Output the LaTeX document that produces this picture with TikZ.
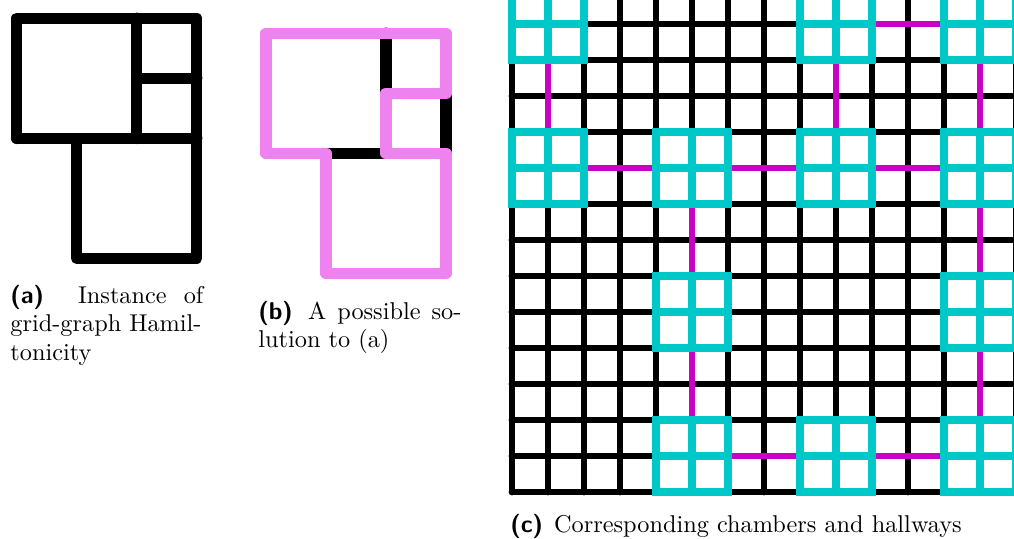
\documentclass[tikz,border=0pt]{standalone}
\usepackage{fontspec}
\setmainfont{lmroman10-regular.otf}[BoldFont=lmroman10-bold.otf, ItalicFont=lmroman10-italic.otf]

\definecolor{roomcyan}{RGB}{0,200,200}
\definecolor{hallmag}{RGB}{200,0,200}
\definecolor{tourpink}{RGB}{238,130,238}
\newcommand{\sublbl}[1]{{\sffamily\bfseries(#1)}}

\begin{document}
\begin{tikzpicture}[x=0.5pt, y=-0.5pt,
    edge/.style={line width=5.75pt, line cap=round, line join=round},
    tour/.style={edge, color=tourpink},
    wall/.style={line width=3.4pt, line cap=round},
    room/.style={line width=3.6pt, color=roomcyan},
    hall/.style={line width=2.8pt, color=hallmag},
    subcap/.style={inner sep=0pt, font=\fontsize{12.15}{14.35}\selectfont, align=left}]
    \useasboundingbox (0,0) rectangle (1014,538);
    \def\unit{30pt}
    \def\cell{18pt}

    % (a) the instance
    \begin{scope}[shift={(16.7,18.3)}, x=\unit, y=-\unit]
        \draw[edge] (0,2) -- (0,0) -- (3,0) -- (3,4) -- (1,4) -- (1,2) -- (3,2);
        \draw[edge] (0,2) -- (1,2);
        \draw[edge] (2,0) -- (2,2);\draw[edge] (2,1) -- (3,1);
    \end{scope}

    % (b) one hamiltonian cycle
    \begin{scope}[shift={(266,33.3)}, x=\unit, y=-\unit]
        \draw[edge] (2,0) -- (2,1);\draw[edge] (3,1) -- (3,2);\draw[edge] (1,2) -- (2,2);
        \draw[tour] (0,0) -- (3,0) -- (3,1) -- (2,1) -- (2,2) -- (3,2) -- (3,4) -- (1,4) -- (1,2) -- (0,2) -- cycle;
    \end{scope}

    % (c) chambers and hallways
    \begin{scope}
        \clip (500,0) rectangle (1014,510);
        \begin{scope}[shift={(512,492)}, x=\cell, y=\cell]
            \foreach \i in {0,...,14} {\draw[wall] (\i,0) -- (\i,15);}
            \foreach \j in {0,...,14} {\draw[wall] (0,\j) -- (15,\j);}
            % hallways
            \foreach \hx/\hy in {1/10, 9/10, 13/10, 5/6, 13/6, 5/2, 13/2} {\draw[hall] (\hx,\hy) -- ++(0,2);}
            \foreach \hx/\hy in {10/13, 2/9, 6/9, 10/9, 6/1, 10/1} {\draw[hall] (\hx,\hy) -- ++(2,0);}
            % chambers
            \foreach \cx/\cy in {0/12, 8/12, 12/12, 0/8, 4/8, 8/8, 12/8, 4/4, 12/4, 4/0, 8/0, 12/0}
                {\draw[room] (\cx,\cy) rectangle ++(2,2) (\cx+1,\cy) -- ++(0,2) (\cx,\cy+1) -- ++(2,0);}
        \end{scope}
    \end{scope}

    % captions
    \node[subcap, anchor=north west] (capa) at (10,284.5)
        {\makebox[96.5pt][l]{\sublbl{a}\hspace{0pt plus 2fill}Instance\hspace{0pt plus 1fill}of}\\ grid-graph Hamil-\\ tonicity};
    \node[subcap, anchor=north west] (capb) at (258,300.5)
        {\makebox[101.5pt][l]{\sublbl{b}\hspace{0pt plus 1.4fill}A\hfill possible\hfill so-}\\ lution to (a)};
    \node[subcap, anchor=base west] (capc) at (510,532.7)
        {\sublbl{c}\hspace{5.5pt}Corresponding chambers and hallways};
\end{tikzpicture}
\end{document}
